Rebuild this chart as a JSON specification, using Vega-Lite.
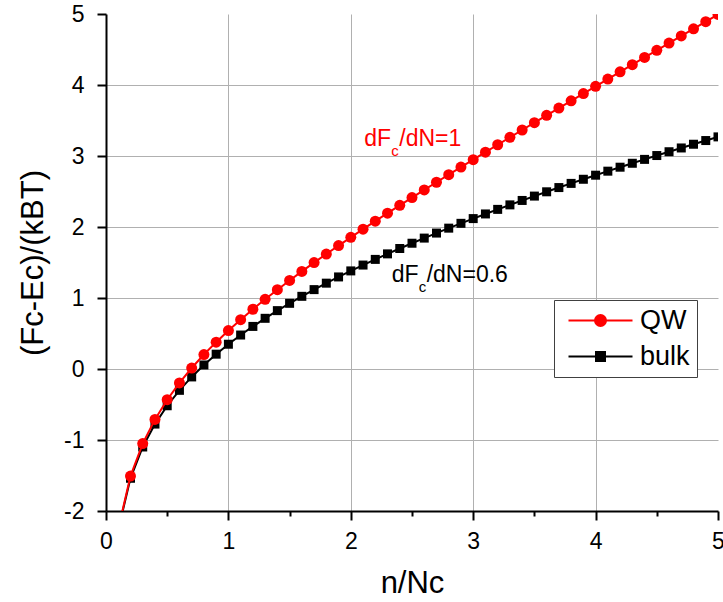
{
  "$schema": "https://vega.github.io/schema/vega-lite/v6.json",
  "width": 612,
  "height": 497,
  "autosize": {"type": "none"},
  "padding": {"left": 106, "top": 14, "right": 5, "bottom": 91},
  "background": "white",
  "config": {
    "font": "Liberation Sans",
    "view": {"stroke": null}
  },
  "datasets": {
    "curves": [
      {"n": 0.1, "y": -2.2522, "series": "QW"}, {"n": 0.2, "y": -1.5078, "series": "QW"}, {"n": 0.3, "y": -1.0502, "series": "QW"}, {"n": 0.4, "y": -0.7096, "series": "QW"}, {"n": 0.5, "y": -0.4328, "series": "QW"},
      {"n": 0.6, "y": -0.1959, "series": "QW"}, {"n": 0.7, "y": 0.0137, "series": "QW"}, {"n": 0.8, "y": 0.2034, "series": "QW"}, {"n": 0.9, "y": 0.3781, "series": "QW"}, {"n": 1.0, "y": 0.5413, "series": "QW"},
      {"n": 1.1, "y": 0.6952, "series": "QW"}, {"n": 1.2, "y": 0.8416, "series": "QW"}, {"n": 1.3, "y": 0.9818, "series": "QW"}, {"n": 1.4, "y": 1.1168, "series": "QW"}, {"n": 1.5, "y": 1.2475, "series": "QW"},
      {"n": 1.6, "y": 1.3745, "series": "QW"}, {"n": 1.7, "y": 1.4983, "series": "QW"}, {"n": 1.8, "y": 1.6193, "series": "QW"}, {"n": 1.9, "y": 1.738, "series": "QW"}, {"n": 2.0, "y": 1.8546, "series": "QW"},
      {"n": 2.1, "y": 1.9694, "series": "QW"}, {"n": 2.2, "y": 2.0826, "series": "QW"}, {"n": 2.3, "y": 2.1944, "series": "QW"}, {"n": 2.4, "y": 2.3049, "series": "QW"}, {"n": 2.5, "y": 2.4144, "series": "QW"},
      {"n": 2.6, "y": 2.5228, "series": "QW"}, {"n": 2.7, "y": 2.6304, "series": "QW"}, {"n": 2.8, "y": 2.7373, "series": "QW"}, {"n": 2.9, "y": 2.8434, "series": "QW"}, {"n": 3.0, "y": 2.9489, "series": "QW"},
      {"n": 3.1, "y": 3.0539, "series": "QW"}, {"n": 3.2, "y": 3.1584, "series": "QW"}, {"n": 3.3, "y": 3.2624, "series": "QW"}, {"n": 3.4, "y": 3.3661, "series": "QW"}, {"n": 3.5, "y": 3.4693, "series": "QW"},
      {"n": 3.6, "y": 3.5723, "series": "QW"}, {"n": 3.7, "y": 3.675, "series": "QW"}, {"n": 3.8, "y": 3.7774, "series": "QW"}, {"n": 3.9, "y": 3.8796, "series": "QW"}, {"n": 4.0, "y": 3.9815, "series": "QW"},
      {"n": 4.1, "y": 4.0833, "series": "QW"}, {"n": 4.2, "y": 4.1849, "series": "QW"}, {"n": 4.3, "y": 4.2863, "series": "QW"}, {"n": 4.4, "y": 4.3876, "series": "QW"}, {"n": 4.5, "y": 4.4888, "series": "QW"},
      {"n": 4.6, "y": 4.5899, "series": "QW"}, {"n": 4.7, "y": 4.6909, "series": "QW"}, {"n": 4.8, "y": 4.7917, "series": "QW"}, {"n": 4.9, "y": 4.8925, "series": "QW"}, {"n": 5.0, "y": 4.9932, "series": "QW"},
      {"n": 0.1, "y": -2.2673, "series": "bulk"}, {"n": 0.2, "y": -1.5389, "series": "bulk"}, {"n": 0.3, "y": -1.0984, "series": "bulk"}, {"n": 0.4, "y": -0.7757, "series": "bulk"}, {"n": 0.5, "y": -0.5176, "series": "bulk"},
      {"n": 0.6, "y": -0.3004, "series": "bulk"}, {"n": 0.7, "y": -0.1116, "series": "bulk"}, {"n": 0.8, "y": 0.0566, "series": "bulk"}, {"n": 0.9, "y": 0.2089, "series": "bulk"}, {"n": 1.0, "y": 0.3488, "series": "bulk"},
      {"n": 1.1, "y": 0.4784, "series": "bulk"}, {"n": 1.2, "y": 0.5997, "series": "bulk"}, {"n": 1.3, "y": 0.7139, "series": "bulk"}, {"n": 1.4, "y": 0.8221, "series": "bulk"}, {"n": 1.5, "y": 0.9251, "series": "bulk"},
      {"n": 1.6, "y": 1.0236, "series": "bulk"}, {"n": 1.7, "y": 1.1181, "series": "bulk"}, {"n": 1.8, "y": 1.209, "series": "bulk"}, {"n": 1.9, "y": 1.2967, "series": "bulk"}, {"n": 2.0, "y": 1.3816, "series": "bulk"},
      {"n": 2.1, "y": 1.4639, "series": "bulk"}, {"n": 2.2, "y": 1.5438, "series": "bulk"}, {"n": 2.3, "y": 1.6216, "series": "bulk"}, {"n": 2.4, "y": 1.6974, "series": "bulk"}, {"n": 2.5, "y": 1.7714, "series": "bulk"},
      {"n": 2.6, "y": 1.8437, "series": "bulk"}, {"n": 2.7, "y": 1.9145, "series": "bulk"}, {"n": 2.8, "y": 1.9838, "series": "bulk"}, {"n": 2.9, "y": 2.0517, "series": "bulk"}, {"n": 3.0, "y": 2.1184, "series": "bulk"},
      {"n": 3.1, "y": 2.1839, "series": "bulk"}, {"n": 3.2, "y": 2.2482, "series": "bulk"}, {"n": 3.3, "y": 2.3116, "series": "bulk"}, {"n": 3.4, "y": 2.3739, "series": "bulk"}, {"n": 3.5, "y": 2.4353, "series": "bulk"},
      {"n": 3.6, "y": 2.4958, "series": "bulk"}, {"n": 3.7, "y": 2.5554, "series": "bulk"}, {"n": 3.8, "y": 2.6142, "series": "bulk"}, {"n": 3.9, "y": 2.6723, "series": "bulk"}, {"n": 4.0, "y": 2.7297, "series": "bulk"},
      {"n": 4.1, "y": 2.7863, "series": "bulk"}, {"n": 4.2, "y": 2.8423, "series": "bulk"}, {"n": 4.3, "y": 2.8977, "series": "bulk"}, {"n": 4.4, "y": 2.9524, "series": "bulk"}, {"n": 4.5, "y": 3.0065, "series": "bulk"},
      {"n": 4.6, "y": 3.0601, "series": "bulk"}, {"n": 4.7, "y": 3.1132, "series": "bulk"}, {"n": 4.8, "y": 3.1657, "series": "bulk"}, {"n": 4.9, "y": 3.2177, "series": "bulk"}, {"n": 5.0, "y": 3.2692, "series": "bulk"}
    ],
    "notes": [
      {"n": 2.11, "y": 3.141, "series": "QW", "main": "dF", "sub": "c", "rest": "/dN=1"},
      {"n": 2.334, "y": 1.23, "series": "bulk", "main": "dF", "sub": "c", "rest": "/dN=0.6"}
    ]
  },
  "layer": [
    {
      "data": {"name": "curves"},
      "transform": [{"filter": "datum.series === 'bulk'"}],
      "mark": {"type": "line", "strokeWidth": 2, "clip": true},
      "encoding": {
        "x": {
          "field": "n", "type": "quantitative",
          "scale": {"domain": [0, 5], "nice": false, "zero": false},
          "axis": {
            "title": "n/Nc",
            "values": [0, 0.5, 1, 1.5, 2, 2.5, 3, 3.5, 4, 4.5, 5],
            "labelExpr": "datum.value % 1 === 0 ? '' + datum.value : ''",
            "labelFontSize": 23, "labelColor": "#000000", "labelPadding": 10,
            "labelFlush": false, "labelOverlap": false,
            "domainColor": "#000000", "domainWidth": 2,
            "tickColor": "#000000", "tickWidth": 2,
            "tickSize": {"condition": {"test": "datum.value % 1 !== 0", "value": 5}, "value": 9},
            "grid": true, "gridColor": "#b0b0b0", "gridWidth": 1,
            "gridOpacity": {"condition": {"test": "datum.value % 1 !== 0 || datum.value === 0 || datum.value === 5", "value": 0}, "value": 1},
            "titleFontSize": 31, "titleFontWeight": "normal", "titleColor": "#000000",
            "titleBaseline": "alphabetic", "titleY": 81
          }
        },
        "y": {
          "field": "y", "type": "quantitative",
          "scale": {"domain": [-2, 5], "nice": false, "zero": false},
          "axis": {
            "title": "(Fc-Ec)/(kBT)",
            "values": [-2, -1.5, -1, -0.5, 0, 0.5, 1, 1.5, 2, 2.5, 3, 3.5, 4, 4.5, 5],
            "labelExpr": "datum.value % 1 === 0 ? '' + datum.value : ''",
            "labelFontSize": 23, "labelColor": "#000000", "labelPadding": 13,
            "labelFlush": false, "labelOverlap": false,
            "domainColor": "#000000", "domainWidth": 2,
            "tickColor": "#000000", "tickWidth": 2,
            "tickSize": {"condition": {"test": "datum.value % 1 !== 0", "value": 5}, "value": 9},
            "grid": true, "gridColor": "#b0b0b0", "gridWidth": 1,
            "gridOpacity": {"condition": {"test": "datum.value % 1 !== 0 || datum.value === -2 || datum.value === 5", "value": 0}, "value": 1},
            "titleFontSize": 31, "titleFontWeight": "normal", "titleColor": "#000000",
            "titleBaseline": "alphabetic", "titleX": -64
          }
        },
        "color": {
          "field": "series", "type": "nominal",
          "scale": {"domain": ["QW", "bulk"], "range": ["#ff0000", "#000000"]},
          "legend": {
            "title": null, "orient": "none", "legendX": 448, "legendY": 286,
            "direction": "vertical", "padding": 7, "rowPadding": 8,
            "fillColor": "#ffffff", "strokeColor": "#404040",
            "labelFontSize": 27, "labelColor": "#000000", "labelOffset": 26,
            "symbolOffset": 26, "symbolSize": 400, "symbolStrokeWidth": 2,
            "encode": {
              "symbols": {
                "update": {
                  "shape": {"signal": "datum.value === 'QW' ? 'M-3.2,0L3.2,0M0.55,0A0.55,0.55,0,1,1,-0.55,0A0.55,0.55,0,1,1,0.55,0Z' : 'M-3.2,0L3.2,0M-0.45,-0.45L0.45,-0.45L0.45,0.45L-0.45,0.45Z'"},
                  "fill": {"signal": "datum.value === 'QW' ? '#ff0000' : '#000000'"},
                  "stroke": {"signal": "datum.value === 'QW' ? '#ff0000' : '#000000'"},
                  "strokeWidth": {"value": 2},
                  "size": {"value": 400},
                  "opacity": {"value": 1},
                  "fillOpacity": {"value": 1},
                  "strokeOpacity": {"value": 1}
                }
              }
            }
          }
        }
      }
    },
    {
      "data": {"name": "curves"},
      "transform": [{"filter": "datum.series === 'bulk'"}],
      "mark": {"type": "point", "shape": "square", "filled": true, "size": 81, "color": "#000000", "opacity": 1, "clip": true},
      "encoding": {
        "x": {"field": "n", "type": "quantitative"},
        "y": {"field": "y", "type": "quantitative"}
      }
    },
    {
      "data": {"name": "curves"},
      "transform": [{"filter": "datum.series === 'QW'"}],
      "mark": {"type": "line", "strokeWidth": 2, "clip": true},
      "encoding": {
        "x": {"field": "n", "type": "quantitative"},
        "y": {"field": "y", "type": "quantitative"},
        "color": {"field": "series", "type": "nominal"}
      }
    },
    {
      "data": {"name": "curves"},
      "transform": [{"filter": "datum.series === 'QW'"}],
      "mark": {"type": "point", "shape": "circle", "filled": true, "size": 121, "color": "#ff0000", "opacity": 1, "clip": true},
      "encoding": {
        "x": {"field": "n", "type": "quantitative"},
        "y": {"field": "y", "type": "quantitative"}
      }
    },
    {
      "data": {"name": "notes"},
      "mark": {"type": "text", "align": "left", "baseline": "alphabetic", "fontSize": 23},
      "encoding": {
        "x": {"field": "n", "type": "quantitative"},
        "y": {"field": "y", "type": "quantitative"},
        "text": {"field": "main"},
        "color": {"condition": {"test": "datum.series === 'QW'", "value": "#ff0000"}, "value": "#000000"}
      }
    },
    {
      "data": {"name": "notes"},
      "mark": {"type": "text", "align": "left", "baseline": "alphabetic", "fontSize": 15, "dx": 27, "dy": 10},
      "encoding": {
        "x": {"field": "n", "type": "quantitative"},
        "y": {"field": "y", "type": "quantitative"},
        "text": {"field": "sub"},
        "color": {"condition": {"test": "datum.series === 'QW'", "value": "#ff0000"}, "value": "#000000"}
      }
    },
    {
      "data": {"name": "notes"},
      "mark": {"type": "text", "align": "left", "baseline": "alphabetic", "fontSize": 23, "dx": 35},
      "encoding": {
        "x": {"field": "n", "type": "quantitative"},
        "y": {"field": "y", "type": "quantitative"},
        "text": {"field": "rest"},
        "color": {"condition": {"test": "datum.series === 'QW'", "value": "#ff0000"}, "value": "#000000"}
      }
    }
  ]
}
